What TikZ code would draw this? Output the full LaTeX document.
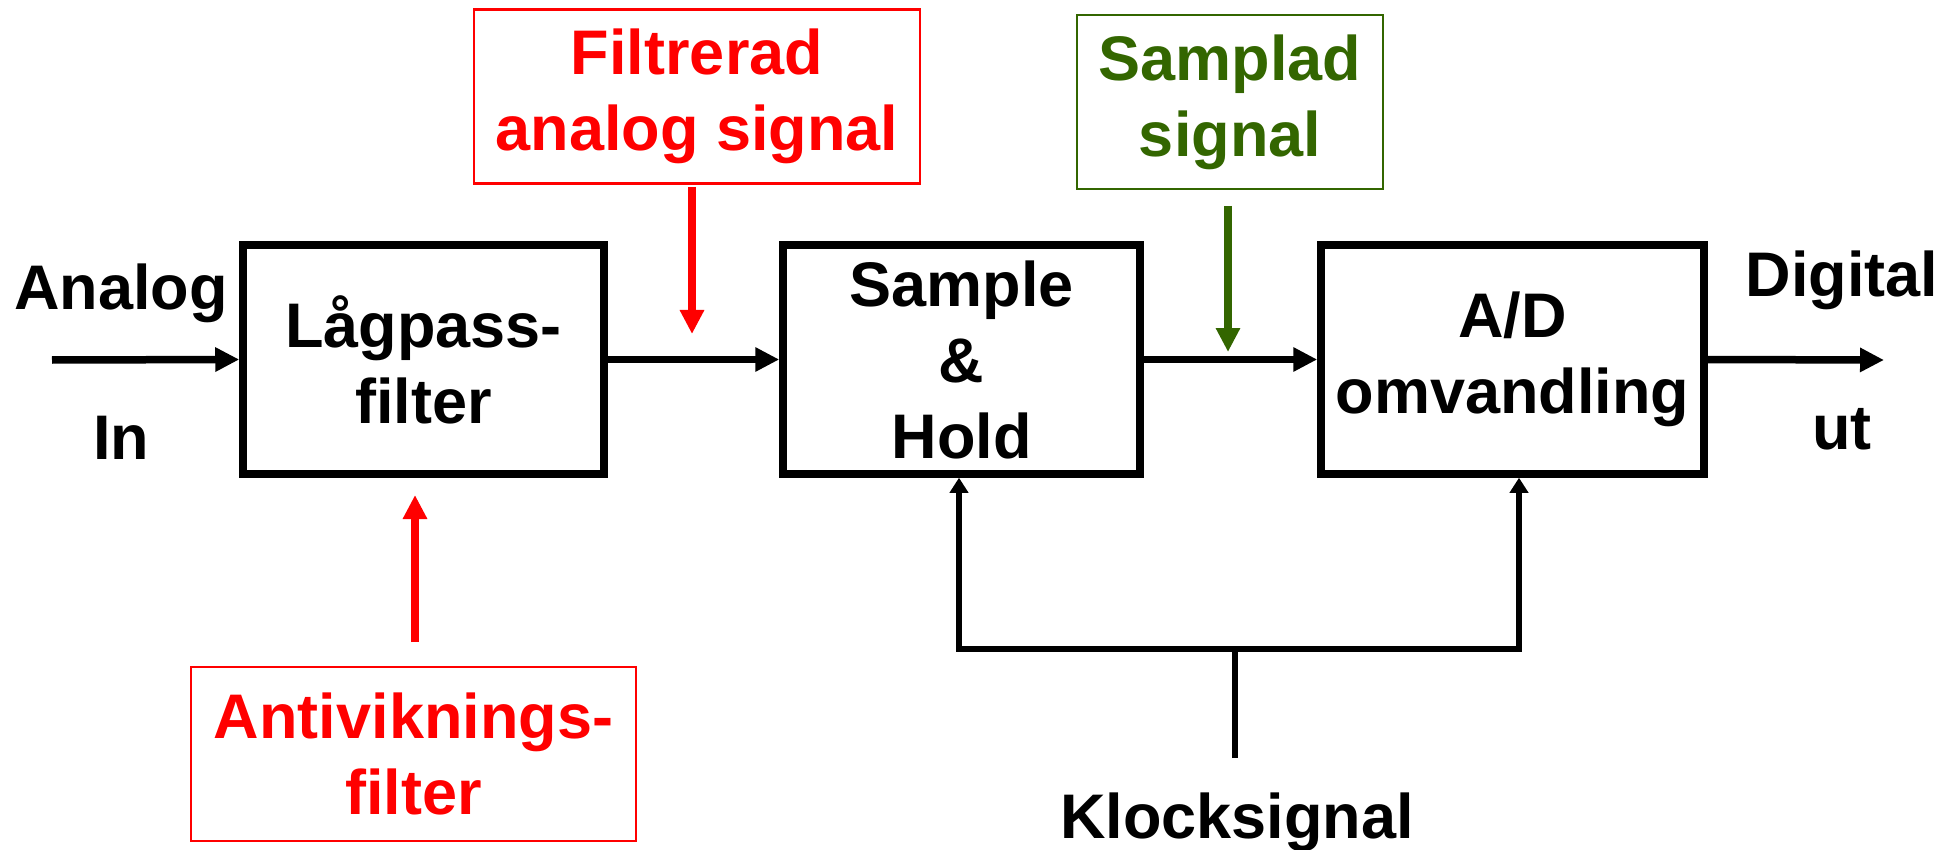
\documentclass[tikz,border=0pt]{standalone}
\usepackage{fontspec}
\setmainfont{Liberation Sans}
\usetikzlibrary{arrows.meta}
\definecolor{sgreen}{RGB}{51,102,0}
\tikzset{
  lbl/.style={font=\fontsize{63}{76}\selectfont\bfseries, inner sep=0pt, align=center},
  blockbox/.style={lbl, draw, line width=7.5pt, minimum height=229pt},
  notebox/.style={lbl, draw, line width=2.5pt, minimum height=174pt},
  mainarrow/.style={line width=7.5pt, -{Triangle[length=24pt,width=23pt]}},
  notearrow/.style={line width=7.5pt, -{Triangle[length=24pt,width=23pt]}},
  clockline/.style={line width=6pt},
  clockarrow/.style={line width=6pt, -{Triangle[length=15pt,width=18pt]}},
}
\begin{document}
\begin{tikzpicture}[x=1pt,y=-1pt]
\useasboundingbox (0,0) rectangle (1954,850);
% main blocks
\node[blockbox, minimum width=361pt] (lp) at (423.5,359.5) {Lågpass-\\filter};
\node[blockbox, minimum width=357pt] (sh) at (961.5,359.5) {Sample\\\&\\Hold};
\node[blockbox, minimum width=383pt] (ad) at (1512.5,359.5) {A/D\\omvandling};
% side labels
\node[lbl, anchor=base] (analog) at (121,309) {Analog};
\node[lbl, anchor=base] (in) at (121,459) {In};
\node[lbl, anchor=base] (digital) at (1842,297) {Digital};
\node[lbl, anchor=base] (ut) at (1842,449) {ut};
\node[lbl, anchor=base] (klock) at (1237,838) {Klocksignal};
% annotation boxes
\node[notebox, draw=red, text=red, minimum width=446pt] (filt) at (697,96.5) {Filtrerad\\analog signal};
\node[notebox, draw=sgreen, text=sgreen, minimum width=306pt] (samp) at (1230,102) {Samplad\\signal};
\node[notebox, draw=red, text=red, minimum width=445pt] (anti) at (413.5,754) {Antiviknings-\\filter};
% coordinates
\coordinate (inStart) at (52,360);
\coordinate (outEnd) at (1884,360);
\coordinate (filtEnd) at (692,334);
\coordinate (filtStart) at (692,187);
\coordinate (sampStart) at (1228,206);
\coordinate (sampEnd) at (1228,352);
\coordinate (antiStart) at (415,642);
\coordinate (antiEnd) at (415,495);
\coordinate (clkBot) at (1235,758);
\coordinate (clkJ) at (1235,649);
\coordinate (clkL) at (959,649);
\coordinate (clkR) at (1519,649);
% main signal path
\draw[mainarrow] (inStart) -- (lp.west);
\draw[mainarrow] (lp.east) -- (sh.west);
\draw[mainarrow] (sh.east) -- (ad.west);
\draw[mainarrow] (ad.east) -- (outEnd);
% annotation arrows
\draw[notearrow, red] (filtStart) -- (filtEnd);
\draw[notearrow, sgreen] (sampStart) -- (sampEnd);
\draw[notearrow, red] (antiStart) -- (antiEnd);
% clock
\draw[clockline] (clkBot) -- (clkJ);
\draw[clockline, line cap=rect] (clkL) -- (clkR);
\draw[clockarrow] (clkL) -- (clkL |- sh.south);
\draw[clockarrow] (clkR) -- (clkR |- ad.south);
\end{tikzpicture}
\end{document}
